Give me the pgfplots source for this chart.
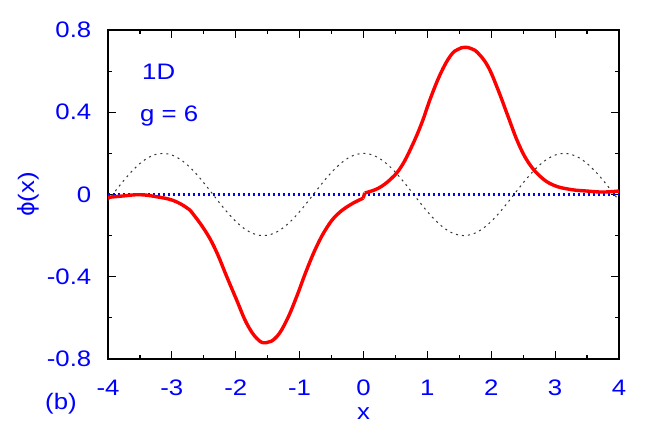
\documentclass[border=0pt]{standalone}
\usepackage{fontspec}
\setmainfont{Liberation Sans}[FakeStretch=1.15]
\newfontfamily\phifont{DejaVu Sans}
\usepackage{pgfplots}
\pgfplotsset{compat=1.18}

\definecolor{labblue}{RGB}{0,0,255}

\begin{document}
\fontsize{22.5}{26}\selectfont
\begin{tikzpicture}
\path[use as bounding box] (-108bp,-67bp) rectangle (556bp,359bp);
\begin{axis}[
    scale only axis,
    width=511bp, height=329bp,
    xmin=-4, xmax=4, ymin=-0.8, ymax=0.8,
    xtick={-4,-3,...,4},
    xticklabels={-4,-3,-2,-1,0,1,2,3,4},
    ytick={-0.8,-0.4,0,0.4,0.8},
    yticklabels={-0.8,-0.4,0,0.4,0.8},
    minor x tick num=1, minor y tick num=1,
    tick align=inside,
    major tick length=8bp, minor tick length=4bp,
    every tick/.style={black, line width=1.2bp},
    axis line style={line width=1.8bp},
    tick label style={font=\fontsize{22.5}{26}\selectfont, text=labblue},
    xticklabel style={yshift=-13bp},
    yticklabel style={xshift=-9bp},
    clip=false,
]
% reference lines
\addplot[black!80, line width=1bp, dash pattern=on 2bp off 4bp, smooth] coordinates {
(-4,-0.0291) (-3.875,0.0208) (-3.75,0.0693) (-3.625,0.1136) (-3.5,0.1508) (-3.375,0.1786)
(-3.25,0.1953) (-3.125,0.1999) (-3,0.1920) (-2.875,0.1722) (-2.75,0.1417) (-2.625,0.1025)
(-2.5,0.0567) (-2.375,0.0075) (-2.25,-0.0422) (-2.125,-0.0892) (-2,-0.1307) (-1.875,-0.1641)
(-1.75,-0.1873) (-1.625,-0.1988) (-1.5,-0.1980) (-1.375,-0.1849) (-1.25,-0.1602) (-1.125,-0.1256)
(-1,-0.0832) (-0.875,-0.0356) (-0.75,0.0141) (-0.625,0.0631) (-0.5,0.1081) (-0.375,0.1463)
(-0.25,0.1755) (-0.125,0.1938) (0,0.2)
(0.125,0.1938) (0.25,0.1755) (0.375,0.1463) (0.5,0.1081) (0.625,0.0631) (0.75,0.0141)
(0.875,-0.0356) (1,-0.0832) (1.125,-0.1256) (1.25,-0.1602) (1.375,-0.1849) (1.5,-0.1980)
(1.625,-0.1988) (1.75,-0.1873) (1.875,-0.1641) (2,-0.1307) (2.125,-0.0892) (2.25,-0.0422)
(2.375,0.0075) (2.5,0.0567) (2.625,0.1025) (2.75,0.1417) (2.875,0.1722) (3,0.1920)
(3.125,0.1999) (3.25,0.1953) (3.375,0.1786) (3.5,0.1508) (3.625,0.1136) (3.75,0.0693)
(3.875,0.0208) (4,-0.0291)
};
\addplot[labblue, line width=2.2bp, dash pattern=on 2.2bp off 2.8bp] coordinates {(-4,0) (4,0)};
% wave function, left part
\addplot[red, line width=3.4bp, smooth, tension=0.7] coordinates {
(-4.0,-0.014) (-3.76,-0.007) (-3.5,-0.001) (-3.24,-0.011) (-2.98,-0.029) (-2.77,-0.064)
(-2.665,-0.096) (-2.455,-0.188) (-2.30,-0.28) (-2.14,-0.40) (-1.986,-0.513) (-1.83,-0.626)
(-1.67,-0.70) (-1.528,-0.721) (-1.36,-0.692) (-1.20,-0.61) (-1.047,-0.497) (-0.89,-0.367)
(-0.736,-0.254) (-0.58,-0.164) (-0.42,-0.10) (-0.213,-0.051) (-0.005,-0.018)
};
\addplot[red, line width=3.4bp] coordinates {(-0.005,-0.018) (0.02,0.008)};
% wave function, right part
\addplot[red, line width=3.4bp, smooth, tension=0.7] coordinates {
(0.02,0.008) (0.23,0.03) (0.44,0.079) (0.596,0.138) (0.753,0.232) (0.91,0.346)
(1.058,0.476) (1.22,0.597) (1.37,0.678) (1.48,0.706) (1.587,0.716) (1.69,0.709)
(1.795,0.687) (1.95,0.622) (2.108,0.508) (2.265,0.378) (2.42,0.252) (2.577,0.158)
(2.763,0.089) (2.97,0.046) (3.23,0.025) (3.49,0.017) (3.75,0.012) (4.0,0.017)
};
\node[anchor=base west, inner sep=0, text=labblue] at (axis cs:-3.468,0.557) {1D};
\node[anchor=base west, inner sep=0, text=labblue] at (axis cs:-3.50,0.353) {g = 6};
\node[anchor=base, inner sep=0, text=labblue] at (axis description cs:0.5,-0.185) {x};
\node[anchor=base west, inner sep=0, text=labblue] at (axis description cs:-0.1233,-0.155) {(b)};
\node[anchor=center, inner sep=0, text=labblue, rotate=90] at (axis description cs:-0.1566,0.5) {{\phifont ϕ}(x)};
\end{axis}
\end{tikzpicture}
\end{document}
